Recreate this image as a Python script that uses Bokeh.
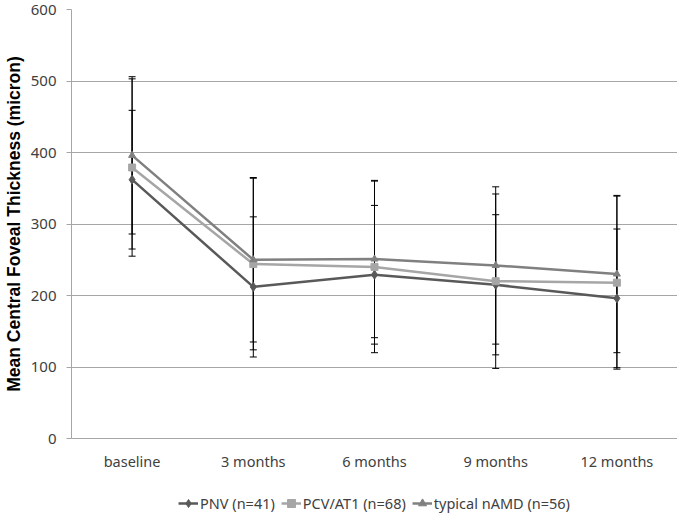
from bokeh.plotting import figure
from bokeh.layouts import column
from bokeh.models import Whisker, ColumnDataSource, TeeHead, Legend, LegendItem, FixedTicker, Range1d
from bokeh.embed import file_html
from bokeh.resources import INLINE

categories = ["baseline", "3 months", "6 months", "9 months", "12 months"]

pnv_mean = [362, 212, 229, 215, 196]
pnv_sd = [97, 98, 97, 98, 97]

pcv_mean = [379, 244, 240, 220, 218]
pcv_sd = [124, 120, 120, 122, 121]

typ_mean = [396, 250, 251, 242, 230]
typ_sd = [110, 115, 110, 110, 110]

y_ticks = [0, 100, 200, 300, 400, 500, 600]

series = [
    ("PNV (n=41)", pnv_mean, pnv_sd, "#595959", "diamond", 9),
    ("PCV/AT1 (n=68)", pcv_mean, pcv_sd, "#a6a6a6", "square", 7),
    ("typical nAMD (n=56)", typ_mean, typ_sd, "#808080", "triangle", 7),
]

p = figure(x_range=categories, y_range=(0, 600), width=677, height=473,
           output_backend="svg", toolbar_location=None,
           min_border_left=70, min_border_right=0, min_border_top=9, min_border_bottom=33)

p.outline_line_color = None
p.xgrid.grid_line_color = None
p.ygrid.grid_line_color = "#a6a6a6"
p.ygrid.grid_line_width = 1
p.yaxis.ticker = FixedTicker(ticks=y_ticks)
p.yaxis.axis_line_color = "#a6a6a6"
p.yaxis.major_tick_line_color = "#a6a6a6"
p.yaxis.major_tick_out = 5
p.yaxis.major_tick_in = 0
p.yaxis.minor_tick_line_color = None
p.yaxis.major_label_text_font = "Noto Sans"
p.yaxis.major_label_text_font_size = "15px"
p.yaxis.major_label_text_color = "#404040"
p.yaxis.major_label_standoff = 10
p.yaxis.axis_label = "Mean Central Foveal Thickness (micron)"
p.yaxis.axis_label_text_font = "Liberation Sans"
p.yaxis.axis_label_text_font_style = "bold"
p.yaxis.axis_label_text_font_size = "17.5px"
p.yaxis.axis_label_text_color = "#000000"
p.yaxis.axis_label_standoff = 4

p.xaxis.axis_line_color = "#a6a6a6"
p.xaxis.major_tick_line_color = None
p.xaxis.minor_tick_line_color = None
p.xaxis.major_label_text_font = "Noto Sans"
p.xaxis.major_label_text_font_size = "14.5px"
p.xaxis.major_label_text_color = "#404040"
p.xaxis.major_label_standoff = 6

# legend holder figure
pl = figure(width=677, height=40, output_backend="svg", toolbar_location=None,
            x_axis_type=None, y_axis_type=None,
            x_range=Range1d(0, 1), y_range=Range1d(0, 1),
            min_border_left=70, min_border_right=0, min_border_top=0, min_border_bottom=0)
pl.outline_line_color = None
pl.xgrid.grid_line_color = None
pl.ygrid.grid_line_color = None

items = []
for label, mean, sd, color, marker, msize in series:
    upper = [m + s for m, s in zip(mean, sd)]
    lower = [m - s for m, s in zip(mean, sd)]
    src = ColumnDataSource(dict(x=categories, y=mean, upper=upper, lower=lower))
    p.line("x", "y", source=src, line_color=color, line_width=2.5)
    p.scatter("x", "y", source=src, marker=marker, size=msize,
              fill_color=color, line_color=color)
    w = Whisker(base="x", upper="upper", lower="lower", source=src, dimension="height",
                line_color="black", line_width=1,
                upper_head=TeeHead(size=7, line_color="black", line_width=1),
                lower_head=TeeHead(size=7, line_color="black", line_width=1))
    p.add_layout(w)
    dummy = ColumnDataSource(dict(x=[-10, -9], y=[-10, -9]))
    l1 = pl.line("x", "y", source=dummy, line_color=color, line_width=2.5)
    l2 = pl.scatter("x", "y", source=dummy, marker=marker, size=msize - 2,
                    fill_color=color, line_color=color)
    items.append(LegendItem(label=label, renderers=[l1, l2]))

legend = Legend(items=items, orientation="horizontal", location="bottom_center",
                padding=0, margin=0, spacing=6, glyph_width=20, glyph_height=20,
                label_height=20, label_standoff=2,
                label_text_font="Noto Sans", label_text_font_size="14.5px",
                label_text_color="#404040",
                background_fill_alpha=0, border_line_alpha=0)
pl.add_layout(legend, "center")

layout = column(p, pl, spacing=0)
open("out.html", "w").write(file_html(layout, INLINE))
